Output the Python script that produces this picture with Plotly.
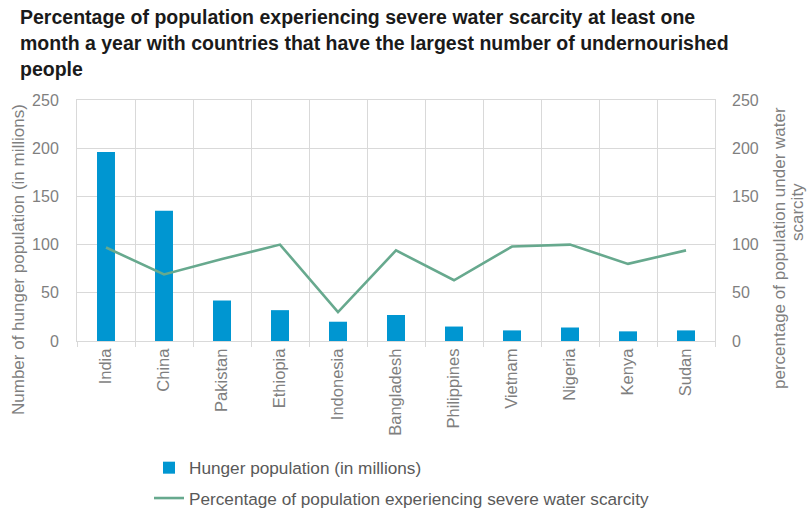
import plotly.graph_objects as go

countries = ["India", "China", "Pakistan", "Ethiopia", "Indonesia", "Bangladesh",
             "Philippines", "Vietnam", "Nigeria", "Kenya", "Sudan"]
hunger_millions = [196, 135, 42, 32, 20, 27, 15, 11, 14, 10, 11]
water_scarcity_pct = [97, 69, 85, 100, 30, 94, 63, 98, 100, 80, 94]
y_ticks = [0, 50, 100, 150, 200, 250]

BAR = "#0096d1"
LINE = "#67a98e"
GRID = "#d9d9d9"
TXT = "#7f7f7f"
FONT = "Liberation Sans, Arial, sans-serif"

fig = go.Figure()
fig.add_trace(go.Bar(
    x=countries, y=hunger_millions, name="Hunger population (in millions)",
    marker=dict(color=BAR, line=dict(width=0)), width=0.31,
    legendgroup="a", yaxis="y",
))
fig.add_trace(go.Scatter(
    x=countries, y=water_scarcity_pct, mode="lines",
    name="Percentage of population experiencing severe water scarcity",
    line=dict(color=LINE, width=2.6), legendgroup="b", yaxis="y2",
))

fig.update_layout(
    width=807, height=512,
    margin=dict(l=77, r=92, t=100, b=171, autoexpand=False),
    paper_bgcolor="white", plot_bgcolor="white",
    font=dict(family=FONT, color=TXT, size=15),
    showlegend=True,
    bargap=0.69,
    legend=dict(
        x=(149 - 77) / 638, xanchor="left", y=(341 - 450) / 241, yanchor="top",
        orientation="v", traceorder="grouped", tracegroupgap=5,
        font=dict(size=17.2, color="#595959", family=FONT),
        itemwidth=30, bgcolor="rgba(0,0,0,0)",
    ),
    xaxis=dict(
        type="category", range=[-0.5, 10.5], automargin=False,
        tickangle=-90, tickfont=dict(size=16.5, color=TXT),
        showgrid=True, gridcolor=GRID, gridwidth=1, tickson="boundaries",
        ticks="outside", ticklen=5, tickcolor=GRID,
        showline=True, linecolor=GRID, mirror=True,
        zeroline=False,
    ),
    yaxis=dict(
        range=[0, 250], tickvals=y_ticks, tickfont=dict(size=16, color=TXT),
        showgrid=True, gridcolor=GRID, gridwidth=1, automargin=False,
        showline=True, linecolor=GRID, mirror=True, zeroline=False,
        ticklabelstandoff=14,
    ),
    yaxis2=dict(
        range=[0, 250], tickvals=y_ticks, tickfont=dict(size=16, color=TXT),
        overlaying="y", side="right", showgrid=False, zeroline=False,
        ticklabelstandoff=16, automargin=False,
    ),
)

title_lines = [
    "Percentage of population experiencing severe water scarcity at least one",
    "month a year with countries that have the largest number of undernourished",
    "people",
]
for i, line in enumerate(title_lines):
    fig.add_annotation(
        text="<b>" + line + "</b>", xref="paper", yref="paper",
        x=(18 - 77) / 638, y=(341 - (17 + 26 * i)) / 241,
        xanchor="left", yanchor="middle", showarrow=False,
        font=dict(size=19.5, color="#1a1a1a", family=FONT),
    )

fig.add_annotation(
    text="Number of hunger population (in millions)", xref="paper", yref="paper",
    x=(18 - 77) / 638, y=(341 - 260) / 241, textangle=-90,
    xanchor="center", yanchor="middle", showarrow=False,
    font=dict(size=17, color=TXT, family=FONT),
)
fig.add_annotation(
    text="percentage of population under water", xref="paper", yref="paper",
    x=(779 - 77) / 638, y=(341 - 248) / 241, textangle=-90,
    xanchor="center", yanchor="middle", showarrow=False,
    font=dict(size=17, color=TXT, family=FONT),
)
fig.add_annotation(
    text="scarcity", xref="paper", yref="paper",
    x=(797 - 77) / 638, y=(341 - 212) / 241, textangle=-90,
    xanchor="center", yanchor="middle", showarrow=False,
    font=dict(size=17, color=TXT, family=FONT),
)

fig.write_html("out.html")
